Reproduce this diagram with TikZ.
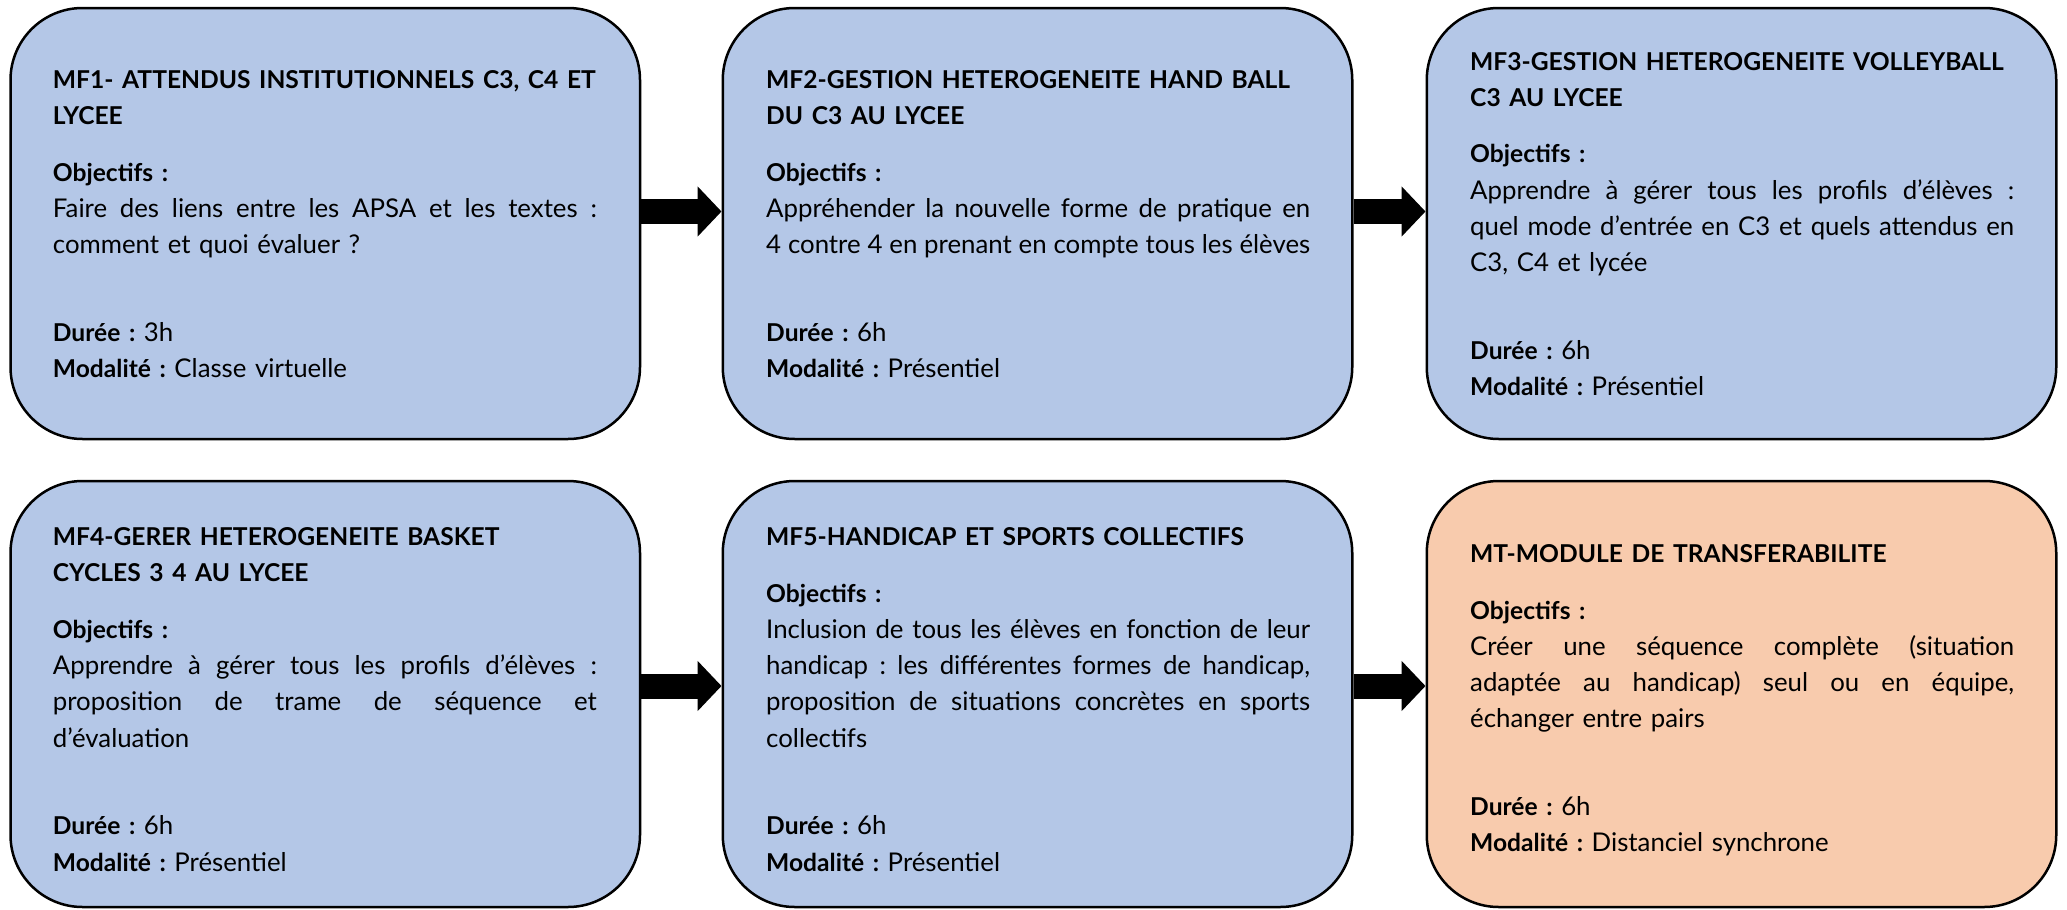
\documentclass[tikz,border=0pt]{standalone}
\usepackage{fontspec}
\setmainfont{Lato}
\usetikzlibrary{arrows.meta}
\definecolor{boxblue}{HTML}{B4C7E7}
\definecolor{boxorange}{HTML}{F8CBAD}
\frenchspacing
\newlength\txtw
\setlength\txtw{544pt}
\newcommand{\jl}[1]{\makebox[\txtw][s]{\spaceskip=\fontdimen2\font plus 1fil minus \fontdimen4\font\relax #1}}
\newcommand{\bt}[1]{\mbox{\fontsize{24.6}{36.25}\selectfont\bfseries #1}}
\newcommand{\gapA}{\\[20.4pt]}
\newcommand{\gapB}{\\[51.4pt]}
\tikzset{
  box/.style={draw=black, line width=2.5pt, rounded corners=72pt, inner sep=0pt,
    minimum width=629.5pt, minimum height=431pt},
  boxlow/.style={box, minimum height=426pt},
  txt/.style={anchor=base west, inner sep=0pt, text width=\txtw, align=left,
    font=\fontsize{25.8}{36.25}\selectfont},
  arr/.style={line width=25pt, -{Triangle[length=24pt,width=49pt]}},
}
\begin{document}
\begin{tikzpicture}[x=1pt,y=-1pt]
\useasboundingbox (0,0) rectangle (2067,910);
% boxes
\node[box, fill=boxblue] (b1) at (325.25,223.5) {};
\node[box, fill=boxblue] (b2) at (1037.5,223.5) {};
\node[box, fill=boxblue] (b3) at (1741.5,223.5) {};
\node[boxlow, fill=boxblue] (b4) at (325.25,694) {};
\node[boxlow, fill=boxblue] (b5) at (1037.5,694) {};
\node[boxlow, fill=boxorange] (b6) at (1741.5,694) {};
% arrows
\coordinate (r1) at (0,211.5);
\coordinate (r2) at (0,686);
\draw[arr] (b1.east |- r1) -- (b2.west |- r1);
\draw[arr] (b2.east |- r1) -- (b3.west |- r1);
\draw[arr] (b4.east |- r2) -- (b5.west |- r2);
\draw[arr] (b5.east |- r2) -- (b6.west |- r2);
% texts
\node[txt] (t1) at (52.7,88.5) {\bt{MF1- ATTENDUS INSTITUTIONNELS C3, C4 ET}\\
\bt{LYCEE}\gapA
\bt{Objectifs :}\\
\jl{Faire des liens entre les APSA et les textes :}\\
comment et quoi évaluer ?\gapB
\bt{Durée :} 3h\\
\bt{Modalité :} Classe virtuelle};
\node[txt] (t2) at (766,88.5) {\bt{MF2-GESTION HETEROGENEITE HAND BALL}\\
\bt{DU C3 AU LYCEE}\gapA
\bt{Objectifs :}\\
\jl{Appréhender la nouvelle forme de pratique en}\\
\jl{4 contre 4 en prenant en compte tous les élèves}\gapB
\bt{Durée :} 6h\\
\bt{Modalité :} Présentiel};
\node[txt] (t3) at (1470,70) {\bt{MF3-GESTION HETEROGENEITE VOLLEYBALL}\\
\bt{C3 AU LYCEE}\gapA
\bt{Objectifs :}\\
\jl{Apprendre à gérer tous les profils d’élèves :}\\
\jl{quel mode d’entrée en C3 et quels attendus en}\\
C3, C4 et lycée\gapB
\bt{Durée :} 6h\\
\bt{Modalité :} Présentiel};
\node[txt] (t4) at (52.7,545.5) {\bt{MF4-GERER HETEROGENEITE BASKET}\\
\bt{CYCLES 3 4 AU LYCEE}\gapA
\bt{Objectifs :}\\
\jl{Apprendre à gérer tous les profils d’élèves :}\\
\jl{proposition de trame de séquence et}\\
d’évaluation\gapB
\bt{Durée :} 6h\\
\bt{Modalité :} Présentiel};
\node[txt] (t5) at (766,545.5) {\bt{MF5-HANDICAP ET SPORTS COLLECTIFS}\gapA
\bt{Objectifs :}\\
\jl{Inclusion de tous les élèves en fonction de leur}\\
\jl{handicap : les différentes formes de handicap,}\\
\jl{proposition de situations concrètes en sports}\\
collectifs\gapB
\bt{Durée :} 6h\\
\bt{Modalité :} Présentiel};
\node[txt] (t6) at (1470,562.5) {\bt{MT-MODULE DE TRANSFERABILITE}\gapA
\bt{Objectifs :}\\
\jl{Créer une séquence complète (situation}\\
\jl{adaptée au handicap) seul ou en équipe,}\\
échanger entre pairs\gapB
\bt{Durée :} 6h\\
\bt{Modalité :} Distanciel synchrone};
\end{tikzpicture}
\end{document}
